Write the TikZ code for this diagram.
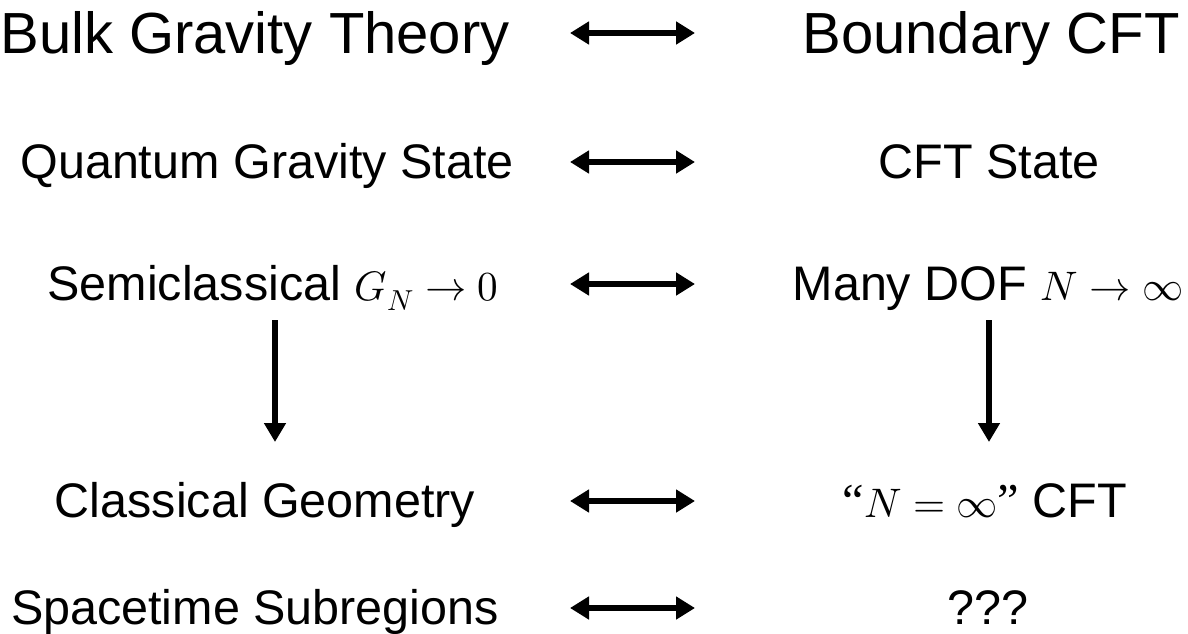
\documentclass[tikz,border=0pt]{standalone}
\usepackage{fontspec}
\usepackage{unicode-math}
\setmainfont{Liberation Sans}
\setmathfont{Latin Modern Math}[Scale=0.85]
\newfontfamily\quotefont{Liberation Serif}
\usetikzlibrary{arrows.meta}
\tikzset{
  title/.style={anchor=base, inner sep=0pt, font=\fontsize{58}{60}\selectfont},
  row/.style={anchor=base, inner sep=0pt, font=\fontsize{48.5}{50}\selectfont},
  dbl/.style={line width=6.5pt, {Triangle[width=22pt,length=19pt]}-{Triangle[width=22pt,length=19pt]}},
  down/.style={line width=6pt, -{Triangle[width=21pt,length=19pt]}},
}
\begin{document}
\begin{tikzpicture}[x=1pt,y=-1pt]
\useasboundingbox (0,0) rectangle (1188,634);
% left column
\node[title] (l1) at (255,54) {Bulk Gravity Theory};
\node[row] (l2) at (267,178.5) {Quantum Gravity State};
\node[row] (l3) at (273,300.5) {Semiclassical $G_N\rightarrow 0$};
\node[row] (l4) at (265,517.5) {Classical Geometry};
\node[row] (l5) at (255,624.5) {Spacetime Subregions};
% right column
\node[title] (r1) at (991,54) {Boundary CFT};
\node[row] (r2) at (989,178.5) {CFT State};
\node[row] (r3) at (988,300.5) {Many DOF $N\rightarrow\infty$};
\node[row] (r4) at (985,517.5) {{\quotefont\char"201C}$N=\infty${\quotefont\char"201D} CFT};
\node[row] (r5) at (988,624.5) {???};
% arrow end points
\coordinate (a1l) at (570,33);  \coordinate (a1r) at (695,33);
\coordinate (a2l) at (570,162); \coordinate (a2r) at (695,162);
\coordinate (a3l) at (570,284); \coordinate (a3r) at (695,284);
\coordinate (a4l) at (570,501); \coordinate (a4r) at (695,501);
\coordinate (a5l) at (570,608); \coordinate (a5r) at (695,608);
\coordinate (dl1) at (275,320); \coordinate (dl2) at (275,442);
\coordinate (dr1) at (989,320); \coordinate (dr2) at (989,442);
\draw[dbl] (a1l) -- (a1r);
\draw[dbl] (a2l) -- (a2r);
\draw[dbl] (a3l) -- (a3r);
\draw[dbl] (a4l) -- (a4r);
\draw[dbl] (a5l) -- (a5r);
\draw[down] (dl1) -- (dl2);
\draw[down] (dr1) -- (dr2);
\end{tikzpicture}
\end{document}
